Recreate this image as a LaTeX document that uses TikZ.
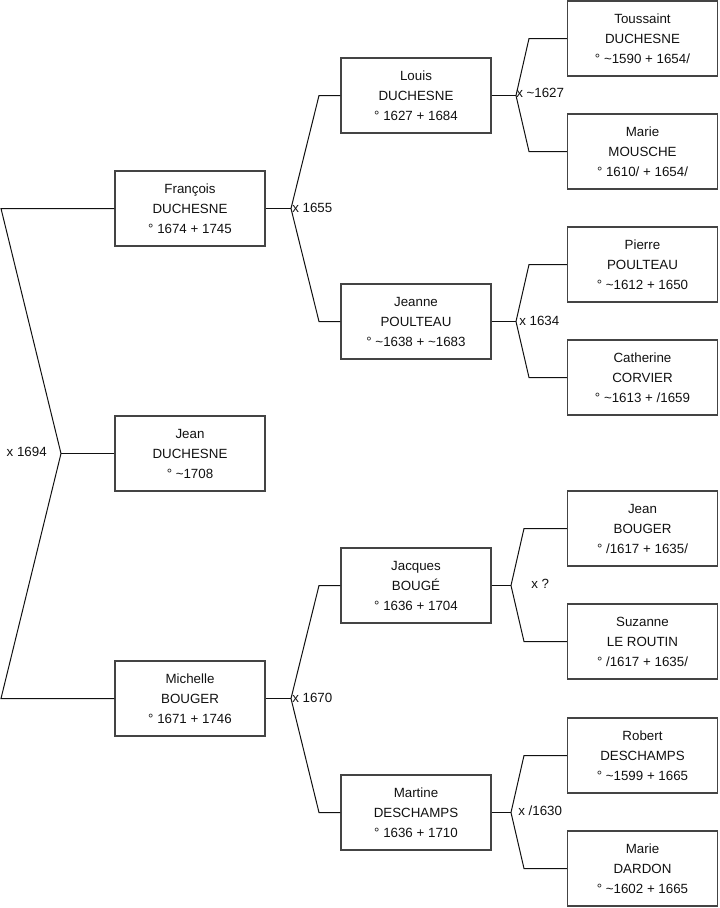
\documentclass[tikz,border=0pt]{standalone}
\usepackage{fontspec}
\setmainfont{Liberation Sans}
\usepackage{xcolor}
\usepackage{tikz}
\usetikzlibrary{positioning}
\definecolor{ink}{HTML}{111111}
\definecolor{boxline}{HTML}{444444}

\begin{document}
\begin{tikzpicture}[x=0.75pt,y=-0.75pt,font=\fontsize{10}{15}\selectfont,
     per/.style={draw=boxline,line width=.9pt,text=ink,align=center,minimum width=112.5pt,minimum height=56.25pt,inner sep=0pt},
     lnk/.style={draw=ink,line width=.75pt}]
    \useasboundingbox (0,0) rectangle (719,908);
    % generation 1
    \node[per](fra) at (190,208.5){François\\DUCHESNE\\° 1674 + 1745};
    \node[per](jea) at (190,453.5){Jean\\DUCHESNE\\° \textasciitilde 1708};
    \node[per](mic) at (190,698.5){Michelle\\BOUGER\\° 1671 + 1746};
    % generation 2
    \node[per](lou) at (416,95.5){Louis\\DUCHESNE\\° 1627 + 1684};
    \node[per](jne) at (416,321.5){Jeanne\\POULTEAU\\° \textasciitilde 1638 + \textasciitilde 1683};
    \node[per](jac) at (416,585.5){Jacques\\BOUGÉ\\° 1636 + 1704};
    \node[per](mar) at (416,812.5){Martine\\DESCHAMPS\\° 1636 + 1710};
    % generation 3
    \node[per](tou) at (642.5,38.5){Toussaint\\DUCHESNE\\° \textasciitilde 1590 + 1654/};
    \node[per](mmo) at (642.5,151.5){Marie\\MOUSCHE\\° 1610/ + 1654/};
    \node[per](pie) at (642.5,264.5){Pierre\\POULTEAU\\° \textasciitilde 1612 + 1650};
    \node[per](cat) at (642.5,377.5){Catherine\\CORVIER\\° \textasciitilde 1613 + /1659};
    \node[per](jbo) at (642.5,528.5){Jean\\BOUGER\\° /1617 + 1635/};
    \node[per](suz) at (642.5,641.5){Suzanne\\LE ROUTIN\\° /1617 + 1635/};
    \node[per](rob) at (642.5,755.5){Robert\\DESCHAMPS\\° \textasciitilde 1599 + 1665};
    \node[per](mda) at (642.5,868.5){Marie\\DARDON\\° \textasciitilde 1602 + 1665};
    % marriages
    \coordinate (x1694) at (61,453.5);
    \coordinate (x1655) at (291,208.5); \coordinate (x1670) at (291,698.5);
    \coordinate (x1627) at (516,95.5); \coordinate (x1634) at (516,321.5);
    \coordinate (xq) at (511,585.5); \coordinate (x1630) at (511,812.5);
    \draw[lnk](fra.west)--(1,208.5)--(x1694)--(1,698.5)--(mic.west);
    \draw[lnk](x1694)--(jea.west);
    \draw[lnk](fra.east)--(x1655); \draw[lnk](lou.west)--(319,95.5)--(x1655)--(319,321.5)--(jne.west);
    \draw[lnk](mic.east)--(x1670); \draw[lnk](jac.west)--(319,585.5)--(x1670)--(319,812.5)--(mar.west);
    \draw[lnk](lou.east)--(x1627); \draw[lnk](tou.west)--(529,38.5)--(x1627)--(529,151.5)--(mmo.west);
    \draw[lnk](jne.east)--(x1634); \draw[lnk](pie.west)--(529,264.5)--(x1634)--(529,377.5)--(cat.west);
    \draw[lnk](jac.east)--(xq); \draw[lnk](jbo.west)--(524,528.5)--(xq)--(524,641.5)--(suz.west);
    \draw[lnk](mar.east)--(x1630); \draw[lnk](rob.west)--(524,755.5)--(x1630)--(524,868.5)--(mda.west);
    \node[text=ink,anchor=east,inner sep=0pt](l1694) at (47,452){x 1694};
    \node[text=ink,anchor=west,inner sep=0pt](l1655) at (292,207.5){x 1655};
    \node[text=ink,anchor=west,inner sep=0pt](l1670) at (292,697.5){x 1670};
    \node[text=ink,anchor=west,inner sep=0pt](l1627) at (516,92.5){x \textasciitilde 1627};
    \node[text=ink,anchor=west,inner sep=0pt](l1634) at (519,320.5){x 1634};
    \node[text=ink,anchor=west,inner sep=0pt](lq) at (531,583.5){x ?};
    \node[text=ink,anchor=west,inner sep=0pt](l1630) at (518,810.5){x /1630};
  \end{tikzpicture}
\end{document}
